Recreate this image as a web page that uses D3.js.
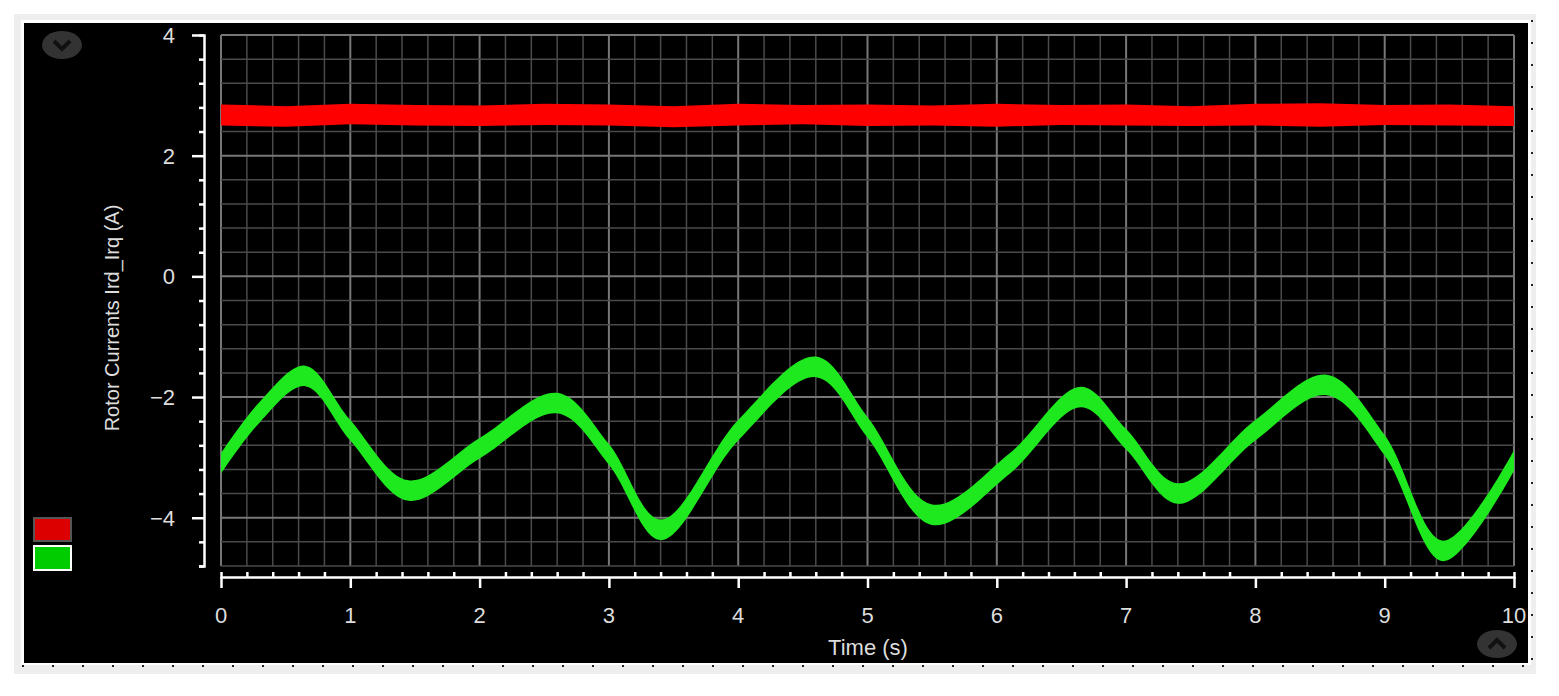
<!DOCTYPE html>
<html><head><meta charset="utf-8">
<script src="https://cdn.jsdelivr.net/npm/d3@7"></script>
<style>body{margin:0;background:#fff}svg{display:block}text{font-family:"Liberation Sans",Arial,sans-serif}</style>
</head><body><svg id="c" width="1559" height="696"></svg>
<script>
// rotor current traces
var xTicks = [0,1,2,3,4,5,6,7,8,9,10]
var yTicks = [4,2,0,-2,-4]
var irdTime  = [0,0.5,1,1.5,2,2.5,3,3.5,4,4.5,5,5.5,6,6.5,7,7.5,8,8.5,9,9.5,10]
var irdUpper = [2.85,2.82,2.86,2.84,2.83,2.86,2.85,2.82,2.86,2.84,2.85,2.83,2.86,2.84,2.85,2.82,2.86,2.87,2.84,2.85,2.82]
var irdLower = [2.5,2.48,2.52,2.5,2.49,2.51,2.5,2.47,2.5,2.52,2.49,2.5,2.48,2.51,2.5,2.49,2.5,2.48,2.51,2.5,2.49]
var irqTime  = [0,0.3,0.65,1.0,1.45,2.0,2.6,3.0,3.4,4.0,4.6,5.0,5.5,6.1,6.65,7.0,7.4,8.0,8.55,9.0,9.45,10]
var irqMid   = [-3.1,-2.25,-1.65,-2.55,-3.55,-2.85,-2.1,-2.95,-4.2,-2.55,-1.5,-2.5,-3.95,-3.1,-2.0,-2.7,-3.6,-2.55,-1.8,-2.8,-4.55,-3.05]
var irqHalf  = 0.17

var svg = d3.select('#c')
svg.append('rect').attr('x',14).attr('y',14).attr('width',1522).attr('height',660).attr('fill','#eee')
svg.append('rect').attr('x',21).attr('y',20).attr('width',1510).attr('height',645).attr('fill','#fff')
svg.append('rect').attr('x',24).attr('y',23).attr('width',1504).attr('height',640).attr('fill','#000')

var x = d3.scaleLinear().domain([0,10]).range([221,1514])
var y = d3.scaleLinear().domain([-4.8,4]).range([566,35])

// grid
var g = svg.append('g')
d3.range(0,10.001,0.2).forEach(function(v){
	var major = Math.abs(v-Math.round(v))<1e-6
	g.append('line').attr('x1',x(v)).attr('x2',x(v)).attr('y1',35).attr('y2',566)
		.attr('stroke',major?'#777':'#4a4a4a').attr('stroke-width',major?2:1.5)
})
d3.range(-4.8,4.001,0.4).forEach(function(v){
	var major = Math.abs(v/2-Math.round(v/2))<1e-6
	g.append('line').attr('x1',221).attr('x2',1514).attr('y1',y(v)).attr('y2',y(v))
		.attr('stroke',major?'#777':'#4a4a4a').attr('stroke-width',major?2:1.5)
})

// axes
var yAxis = d3.axisLeft(y).tickValues(d3.range(-4.8,4.001,0.4)).tickSize(5).tickFormat('')
var ya = svg.append('g').attr('transform','translate(204,0)').call(yAxis)
ya.selectAll('.tick line').attr('stroke','#fff').attr('stroke-width',2.5)
ya.selectAll('.tick').filter(function(d){return yTicks.some(function(t){return Math.abs(t-d)<1e-6})}).select('line').attr('x2',-12)
ya.select('.domain').attr('stroke','#fff').attr('stroke-width',2.5)
yTicks.forEach(function(v){
	svg.append('text').attr('x',175).attr('y',y(v)+8).attr('text-anchor','end').attr('fill','#ddd')
		.attr('font-size',22).text(v<0?'\u2212'+(-v):v)
})

var xAxis = d3.axisBottom(x).tickValues(d3.range(0,10.001,0.2)).tickSize(-5).tickFormat('')
var xa = svg.append('g').attr('transform','translate(0,577)').call(xAxis)
xa.selectAll('.tick line').attr('stroke','#fff').attr('stroke-width',2.5)
xa.selectAll('.tick').filter(function(d){return Math.abs(d-Math.round(d))<1e-6}).select('line').attr('y1',0).attr('y2',11)
xa.select('.domain').attr('stroke','#fff').attr('stroke-width',2.5)
xTicks.forEach(function(v){
	svg.append('text').attr('x',x(v)).attr('y',623).attr('text-anchor','middle').attr('fill','#ddd')
		.attr('font-size',22).text(v)
})
svg.append('text').attr('x',868).attr('y',655).attr('text-anchor','middle').attr('fill','#ddd').attr('font-size',22).text('Time (s)')
svg.append('text').attr('transform','translate(119,318) rotate(-90)').attr('text-anchor','middle')
	.attr('fill','#ddd').attr('font-size',20).text('Rotor Currents Ird_Irq (A)')

// traces
var clip = svg.append('clipPath').attr('id','pc').append('rect').attr('x',221).attr('y',35).attr('width',1293).attr('height',531)
var plot = svg.append('g').attr('clip-path','url(#pc)')

var redArea = d3.area().x(function(d,i){return x(irdTime[i])}).y0(function(d,i){return y(irdLower[i])})
	.y1(function(d,i){return y(irdUpper[i])}).curve(d3.curveLinear)
plot.append('path').datum(irdTime).attr('d',redArea).attr('fill','#ff0000')

var greenArea = d3.area().x(function(d,i){return x(irqTime[i])}).y0(function(d,i){return y(irqMid[i]-irqHalf)})
	.y1(function(d,i){return y(irqMid[i]+irqHalf)}).curve(d3.curveCatmullRom)
plot.append('path').datum(irqTime).attr('d',greenArea).attr('fill','#1ee81e')

// legend swatches
svg.append('rect').attr('x',34).attr('y',518).attr('width',37).attr('height',23).attr('fill','#d00').attr('stroke','#555').attr('stroke-width',2)
svg.append('rect').attr('x',34).attr('y',546).attr('width',37).attr('height',24).attr('fill','#0c0').attr('stroke','#fff').attr('stroke-width',2)

// scroll buttons
function knob(cx,cy,up){
	svg.append('ellipse').attr('cx',cx).attr('cy',cy).attr('rx',20).attr('ry',14).attr('fill','#333')
	var d = up ? 'M'+(cx-8)+','+(cy+4)+'L'+cx+','+(cy-4)+'L'+(cx+8)+','+(cy+4)
	           : 'M'+(cx-8)+','+(cy-4)+'L'+cx+','+(cy+4)+'L'+(cx+8)+','+(cy-4)
	svg.append('path').attr('d',d).attr('fill','none').attr('stroke','#111').attr('stroke-width',4)
}
knob(62,45,false)
knob(1497,644,true)

// dotted frame edges
svg.append('line').attr('x1',22).attr('x2',1531).attr('y1',666).attr('y2',666).attr('stroke','#222').attr('stroke-dasharray','2,28').attr('stroke-width',2)
svg.append('line').attr('x1',1532).attr('x2',1532).attr('y1',20).attr('y2',666).attr('stroke','#222').attr('stroke-dasharray','2,20').attr('stroke-width',2)
</script></body></html>
